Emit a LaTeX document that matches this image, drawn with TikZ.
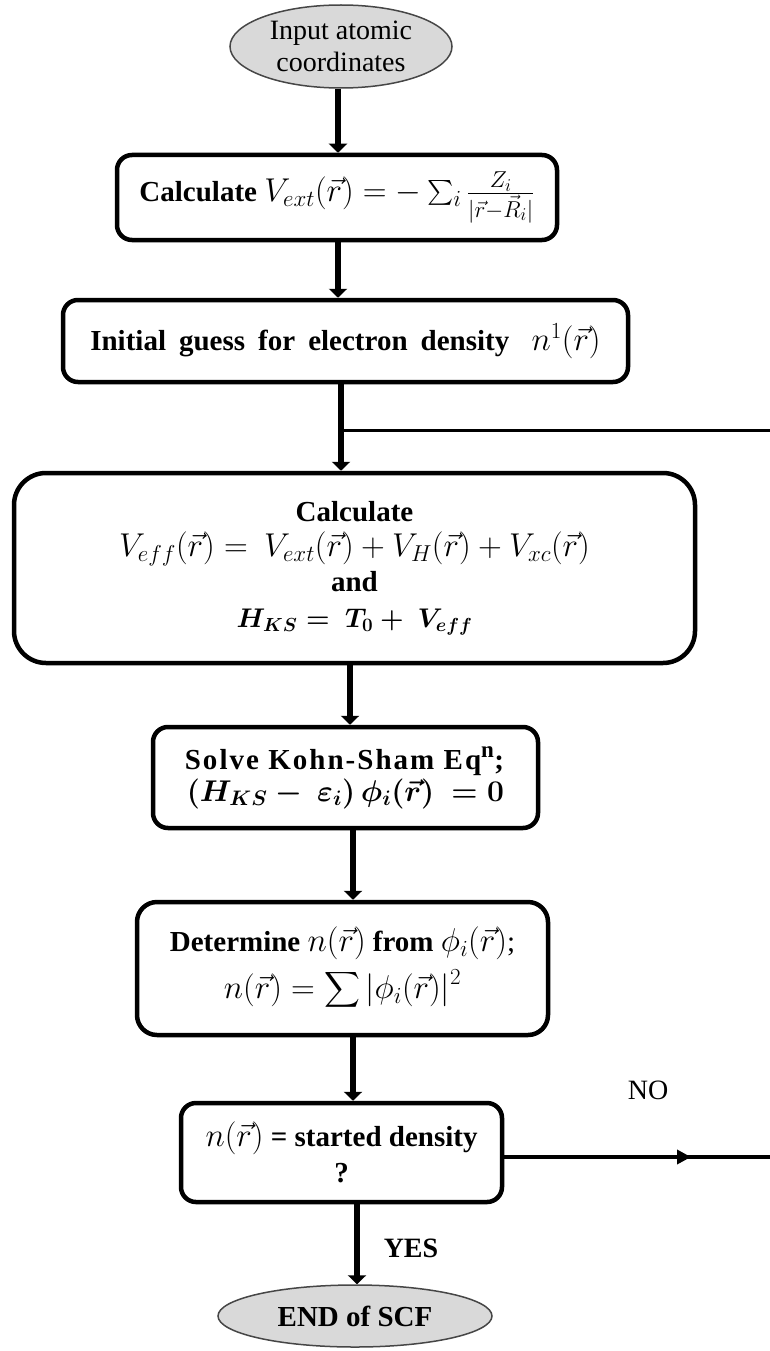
\documentclass[tikz,border=0pt]{standalone}
\usepackage{fix-cm}
\usepackage{amsmath}
\usepackage{fontspec}
\setmainfont{Liberation Serif}
\DeclareMathSizes{29}{33}{23}{18}
\DeclareMathSizes{28}{32}{22}{17}
\usetikzlibrary{arrows.meta,shapes.geometric}
\definecolor{ellfill}{RGB}{217,217,217}
\definecolor{ellline}{RGB}{70,70,70}
\tikzset{
  boxnode/.style={draw=black, line width=4.5pt, fill=white, align=center, inner sep=0pt},
  ellnode/.style={ellipse, draw=ellline, line width=1.5pt, fill=ellfill, align=center, inner sep=0pt},
  arr/.style={line width=6pt, -{Triangle[width=18pt,length=9pt]}},
  plainline/.style={line width=3pt},
  noline/.style={line width=3.5pt},
  noarr/.style={line width=3.5pt, -{Triangle[width=14pt,length=14pt]}},
  lbl/.style={inner sep=0pt, font=\fontsize{28}{32}\selectfont}
}
\begin{document}
\begin{tikzpicture}[x=1pt,y=-1pt, every node/.style={font=\fontsize{29}{36}\selectfont}]
\useasboundingbox (0,0) rectangle (770,1351);
% nodes
\node[ellnode, minimum width=222pt, minimum height=83pt, font=\fontsize{28}{32}\selectfont] (top) at (341,46.5)
  {Input atomic\\coordinates};
\node[boxnode, rounded corners=15pt, minimum width=440pt, minimum height=85pt] (b1) at (337,197.5)
  {\textbf{Calculate} $V_{ext}(\vec{r}) = -\sum_i \frac{Z_i}{|\vec{r}-\vec{R}_i|}$};
\node[boxnode, rounded corners=15pt, minimum width=565pt, minimum height=82pt] (b2) at (345.5,341)
  {\spaceskip=0.45em\textbf{Initial guess for electron density} $\;n^1(\vec{r})$};
\node[boxnode, rounded corners=32pt, minimum width=681pt, minimum height=190pt] (b3) at (354.5,568)
  {\textbf{Calculate}\\[-1pt]
   $V_{eff}(\vec{r}) =\ V_{ext}(\vec{r}) + V_H(\vec{r}) + V_{xc}(\vec{r})$\\[-1pt]
   \textbf{and}\\[0pt]
   {\fontsize{27}{32}\selectfont\boldmath$H_{KS} =\ T_0 +\ V_{eff}$}};
\node[boxnode, rounded corners=15pt, minimum width=385pt, minimum height=101pt] (b4) at (345.5,777.5)
  {{\addfontfeatures{LetterSpace=7}\textbf{Solve Kohn-Sham Eq\textsuperscript{n};}}\\[-4pt]
   {\fontsize{30}{32}\selectfont\boldmath$(H_{KS} -\ \varepsilon_i)\,\phi_i(\vec{r})\ = 0$}};
\node[boxnode, rounded corners=20pt, minimum width=411pt, minimum height=133pt] (b5) at (342.5,968.5)
  {\textbf{Determine} $n(\vec{r})$ \textbf{from} $\phi_i(\vec{r})$;\\[9pt]
   $n(\vec{r}) = \displaystyle\sum|\phi_i(\vec{r})|^2$};
\node[boxnode, rounded corners=15pt, minimum width=321pt, minimum height=99pt] (b6) at (341.5,1152.5)
  {$n(\vec{r})$ \textbf{= started density}\\ \textbf{?}};
\node[ellnode, minimum width=274pt, minimum height=62pt] (end) at (355,1316)
  {\textbf{END of SCF}};
\node[lbl] (no) at (648,1090) {NO};
\node[lbl] (yes) at (411,1248) {\textbf{YES}};
% coordinates
\coordinate (x1) at (338,0);
\coordinate (x2) at (338,0);
\coordinate (x3) at (341,0);
\coordinate (lp) at (341,430);
\coordinate (lpe) at (770,430);
\coordinate (x4) at (350,0);
\coordinate (x5) at (353,0);
\coordinate (x6) at (353,0);
\coordinate (x7) at (357,0);
\coordinate (notip) at (691,1157);
\coordinate (noend) at (770,1157);
% connectors
\draw[arr] (top.south -| x1) -- (b1.north -| x1);
\draw[arr] (b1.south -| x2) -- (b2.north -| x2);
\draw[arr] (b2.south -| x3) -- (b3.north -| x3);
\draw[plainline] (lp) -- (lpe);
\draw[arr] (b3.south -| x4) -- (b4.north -| x4);
\draw[arr] (b4.south -| x5) -- (b5.north -| x5);
\draw[arr] (b5.south -| x6) -- (b6.north -| x6);
\draw[arr] (b6.south -| x7) -- (end.north -| x7);
\draw[noline] (b6.east |- notip) -- (noend);
\draw[noarr] (b6.east |- notip) -- (notip);
\end{tikzpicture}
\end{document}
